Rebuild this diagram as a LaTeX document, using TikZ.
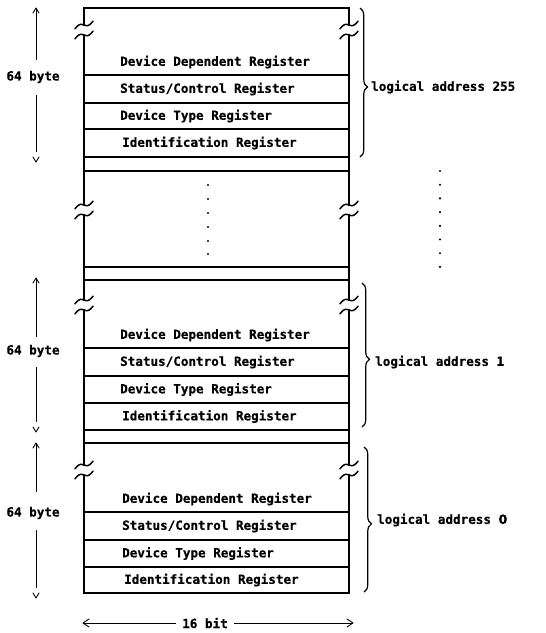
\documentclass[tikz,border=0pt]{standalone}
\usepackage{fontspec}
\setmonofont{DejaVu Sans Mono}[BoldFeatures={FakeBold=0.6}]
\newfontfamily\zerofont{DejaVu Sans}[BoldFeatures={FakeBold=0.6}]
\usetikzlibrary{arrows.meta,decorations.pathreplacing}
\tikzset{
  frame/.style={line width=1.2pt, line cap=rect},
  rowline/.style={line width=1.3pt},
  txt/.style={font=\ttfamily\bfseries\fontsize{12.6}{14}\selectfont, inner sep=0pt},
  reg/.style={txt, anchor=west},
  bracestyle/.style={decorate, decoration={brace, amplitude=7.5pt, aspect=0.53}, line width=1.2pt},
  dim/.style={line width=0.9pt},
  chev/.style={line width=0.9pt, line cap=round, line join=round},
  dotmark/.style={circle, fill=black, inner sep=0pt, minimum size=2.4pt},
  brk/.pic={
    \draw[line width=1.5pt, line cap=round] plot[smooth, domain=-9:9, samples=19] (\x,{2.2*sin(20*\x)-0.42*\x-5});
    \draw[line width=1.5pt, line cap=round] plot[smooth, domain=-9:9, samples=19] (\x,{2.2*sin(20*\x)-0.42*\x+5});
  }
}
\begin{document}
\begin{tikzpicture}[x=1pt,y=-1pt]
\useasboundingbox (0,0) rectangle (546,633);
% frame verticals with breaks
\foreach \xx in {84,349}{
  \draw[frame] (\xx,25) -- (\xx,8);
  \draw[frame] (\xx,35) -- (\xx,205);
  \draw[frame] (\xx,215) -- (\xx,300);
  \draw[frame] (\xx,310) -- (\xx,465);
  \draw[frame] (\xx,475) -- (\xx,593);
  \foreach \yy in {30,210,305,470} \pic at (\xx,\yy) {brk};
}
\draw[frame] (84,8) -- (349,8);
\draw[frame] (84,593) -- (349,593);
\foreach \yy in {75,103,129,157,171,267,280,348,376,403,430,443,512,540,567}
  \draw[rowline] (84,\yy) -- (349,\yy);

% registers, logical address 255
\node[reg] (ddr2) at (120,62) {Device Dependent Register};
\node[reg] (scr2) at (120,89) {Status/Control Register};
\node[reg] (dtr2) at (120,116) {Device Type Register};
\node[reg] (idr2) at (122,143) {Identification Register};
% logical address 1
\node[reg] (ddr1) at (120,335) {Device Dependent Register};
\node[reg] (scr1) at (120,362) {Status/Control Register};
\node[reg] (dtr1) at (120,389.5) {Device Type Register};
\node[reg] (idr1) at (122,416.5) {Identification Register};
% logical address 0
\node[reg] (ddr0) at (122,499) {Device Dependent Register};
\node[reg] (scr0) at (122,526) {Status/Control Register};
\node[reg] (dtr0) at (122,553.5) {Device Type Register};
\node[reg] (idr0) at (124,580) {Identification Register};

% dots
\foreach \yy [count=\i] in {185,199,213,227,241,254} \node[dotmark] (cd\i) at (208,\yy) {};
\foreach \i in {0,...,7} \node[dotmark] (rd\i) at (440,{171+\i*13.7}) {};

% braces and labels
\coordinate (b2t) at (360,8);   \coordinate (b2b) at (360,157);
\coordinate (b1t) at (362,283); \coordinate (b1b) at (362,427);
\coordinate (b0t) at (364,447); \coordinate (b0b) at (364,592);
\draw[bracestyle] (b2t) -- (b2b);
\draw[bracestyle] (b1t) -- (b1b);
\draw[bracestyle] (b0t) -- (b0b);
\node[reg] (la2) at (371,87) {logical address 255};
\node[reg] (la1) at (375,362) {logical address 1};
\node[reg] (la0) at (377,520) {logical address {\zerofont 0}};

% 64 byte dimensions
\foreach \n/\top/\a/\mid/\b/\bot in {2/8/60/77/95/152, 1/278/337/351/367/422, 0/443/492/513/530/588}{
  \node[txt] (by\n) at (33,\mid) {64 byte};
  \coordinate (ut\n) at (36,\top);
  \coordinate (ue\n) at (36,\a);
  \coordinate (ls\n) at (36,\b);
  \coordinate (le\n) at (36,\bot);
  \draw[dim] (ue\n) -- (ut\n);
  \draw[chev] ([xshift=-3pt,yshift=-5pt]ut\n) -- (ut\n) -- ([xshift=3pt,yshift=-5pt]ut\n);
  \draw[dim] (ls\n) -- (le\n);
  \draw[chev] ([xshift=-3pt,yshift=-5pt]le\n) -- ([yshift=-10pt]le\n) -- ([xshift=3pt,yshift=-5pt]le\n);
}

% 16 bit
\node[txt] (bits) at (205,623) {16 bit};
\coordinate (bl) at (83,623);
\coordinate (br) at (353,623);
\draw[dim] (bits.west) ++(-6,0) -- (bl);
\draw[dim] (bits.east) ++(6,0) -- (br);
\draw[chev] ([xshift=6pt,yshift=-4pt]bl) -- (bl) -- ([xshift=6pt,yshift=4pt]bl);
\draw[chev] ([xshift=-6pt,yshift=-4pt]br) -- (br) -- ([xshift=-6pt,yshift=4pt]br);
\end{tikzpicture}
\end{document}
